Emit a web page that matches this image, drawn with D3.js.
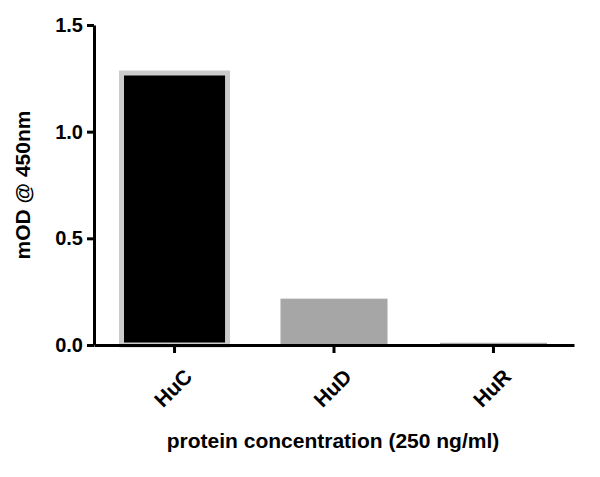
<!DOCTYPE html><html><head><script src="https://cdn.jsdelivr.net/npm/d3@7"></script>
<style>body{margin:0;background:#fff}text{font-family:"Liberation Sans",Arial,sans-serif;font-weight:bold}</style></head><body><svg id="c" width="600" height="477"></svg>
<script>
const categories=["HuC","HuD","HuR"];
const values=[1.275,0.215,0.008];
const fills=["#000000","#a6a6a6","#a6a6a6"];
const strokes=["#cccccc","#a6a6a6","#a6a6a6"];
const yTicks=[0,0.5,1.0,1.5];
const svg=d3.select("#c");
const x=d3.scaleBand().domain(categories).range([94,574]).paddingInner(0.31).paddingOuter(0.16);
const y=d3.scaleLinear().domain([0,1.5]).range([345,25]);
svg.selectAll("rect.b").data(categories).enter().append("rect")
 .attr("x",d=>x(d)+2).attr("width",x.bandwidth()-4)
 .attr("y",(d,i)=>y(values[i])).attr("height",(d,i)=>y(0)-y(values[i]))
 .attr("fill",(d,i)=>fills[i]).attr("stroke",(d,i)=>strokes[i]).attr("stroke-width",(d,i)=>i==0?5:1);
const ya=svg.append("g").attr("transform","translate(94,0)").call(d3.axisLeft(y).tickValues(yTicks).tickFormat(d3.format(".1f")).tickSize(7).tickSizeOuter(0));
const xa=svg.append("g").attr("transform","translate(0,345)").call(d3.axisBottom(x).tickSize(8).tickSizeOuter(0));
[ya,xa].forEach(a=>{a.select(".domain").attr("stroke","#000").attr("stroke-width",3);a.selectAll(".tick line").attr("stroke","#000").attr("stroke-width",3);a.selectAll("text").attr("fill","#000").style("font-size","20px").style("font-family","Liberation Sans, Arial").style("font-weight","bold");});
ya.selectAll("text").attr("x",-11);
xa.selectAll("text").style("font-size","21px").attr("text-anchor","end").attr("dy","0.35em").attr("transform","translate(6,20) rotate(-45)");
svg.append("text").attr("transform","translate(30,185) rotate(-90)").attr("text-anchor","middle").style("font-size","21px").text("mOD @ 450nm");
svg.append("text").attr("x",333).attr("y",448).attr("text-anchor","middle").style("font-size","21px").text("protein concentration (250 ng/ml)");
</script></body></html>
